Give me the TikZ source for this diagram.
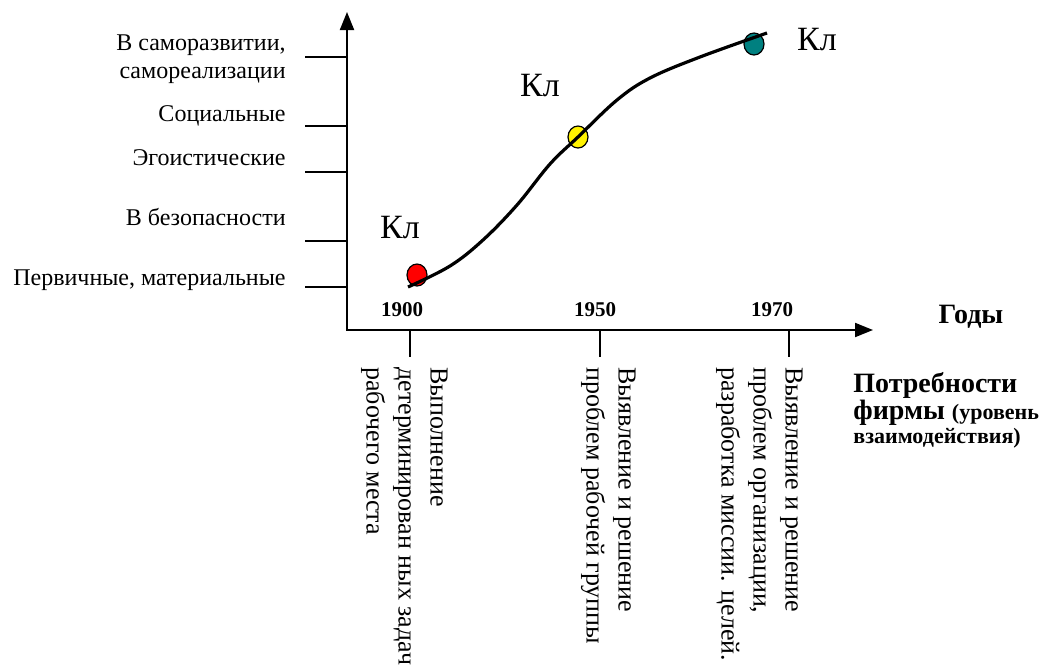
\documentclass[tikz,border=0pt]{standalone}
\usepackage{fontspec}
\setmainfont{Liberation Serif}
\usetikzlibrary{arrows.meta,shapes.geometric}
\definecolor{dotteal}{RGB}{0,128,128}

\begin{document}
\begin{tikzpicture}[x=0.5pt,y=-0.5pt,
    axis/.style={line width=1pt,{Triangle[length=9pt,width=7pt]}-{Triangle[length=9pt,width=7pt]}},
    tick/.style={line width=0.7pt},
    need/.style={anchor=east,align=right,inner sep=0pt,font=\fontsize{12}{14}\selectfont},
    year/.style={inner sep=0pt,font=\bfseries\fontsize{10.5}{12}\selectfont},
    cl/.style={inner sep=0pt,font=\fontsize{17}{20}\selectfont},
    task/.style={rotate=-90,anchor=north west,align=left,inner sep=0pt,font=\fontsize{13}{16}\selectfont},
    dot/.style={draw,ellipse,line width=0.6pt,minimum width=10pt,minimum height=11pt,inner sep=0pt}]

        \useasboundingbox (0,0) rectangle (1045,670);

        % axes
        \coordinate (ytop) at (347,12);
        \coordinate (O) at (347,330);
        \coordinate (xend) at (873,330);
        \draw[axis] (ytop) -- (O) -- (xend);

        % levels of needs
        \foreach \y in {57,126,172,241,287}
            \draw[tick] (305,\y) -- (347,\y);

        \node[need] (selfdev) at (286,59) {В саморазвитии,\\самореализации};
        \node[need] (social) at (286,116) {Социальные};
        \node[need] (ego) at (286,158) {Эгоистические};
        \node[need] (safety) at (286,217) {В безопасности};
        \node[need] (primary) at (286,280) {Первичные, материальные};

        % years
        \foreach \x in {410,600,789}
            \draw[tick] (\x,330) -- (\x,357);

        \node[year] (y1900) at (402,310) {1900};
        \node[year] (y1950) at (595,310) {1950};
        \node[year] (y1970) at (772,310) {1970};

        \node[inner sep=0pt,font=\bfseries\fontsize{14}{15}\selectfont] (years) at (971,317) {Годы};
        \node[anchor=north west,align=left,inner sep=0pt,font=\bfseries\fontsize{14}{12}\selectfont] (firm) at (853,372)
            {Потребности\\фирмы {\fontsize{11}{12}\selectfont(уровень}\\{\fontsize{11}{12}\selectfont взаимодействия)}};

        % tasks
        \node[task] (task1) at (448,367) {Выполнение\\детерминирован ных задач\\рабочего места};
        \node[task] (task2) at (636,367) {Выявление и решение\\проблем рабочей группы};
        \node[task] (task3) at (803,367) {Выявление и решение\\проблем организации,\\разработка миссии. целей.};

        % stages
        \node[dot,fill=red] (p1) at (417,275) {};
        \node[dot,fill=yellow] (p2) at (578,137) {};
        \node[dot,fill=dotteal] (p3) at (754,44) {};

        \node[cl] (cl1) at (400,228) {Кл};
        \node[cl] (cl2) at (540,86) {Кл};
        \node[cl] (cl3) at (817,40) {Кл};

        \draw[line width=1.6pt] plot[smooth,tension=0.6] coordinates
            {(408,287) (450,266) (483,240) (517,205) (550,164) (578,137) (617,100) (650,78) (700,57) (767,33)};
      \end{tikzpicture}
\end{document}
